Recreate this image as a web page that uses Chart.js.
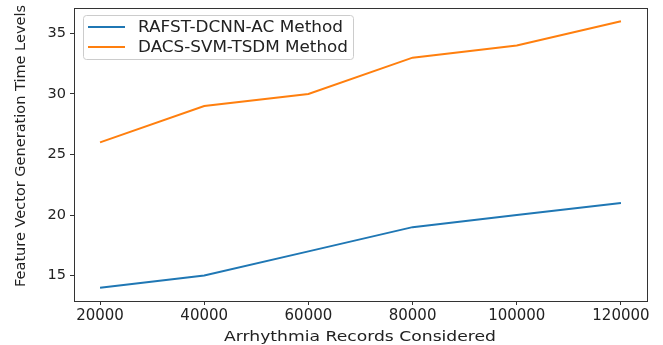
<!DOCTYPE html>
<html lang="en">
  <head>
    <meta charset="UTF-8" />
    <title>Feature Vector Generation Time</title>
    <style>
      html, body { margin: 0; padding: 0; background: #fff; }
      #wrap { width: 663px; height: 345px; }
    </style>
  </head>
  <body>
    <div id="wrap"><canvas id="myChart"></canvas></div>

    <script src="https://cdn.jsdelivr.net/npm/chart.js"></script>
    <script>
      const records = [20000, 40000, 60000, 80000, 100000, 120000];
      const rafstDcnn = [14, 15, 17, 19, 20, 21];
      const dacsSvm = [26, 29, 30, 33, 34, 36];
      const xTicks = [20000, 40000, 60000, 80000, 100000, 120000];
      const yTicks = [15, 20, 25, 30, 35];
      const xTitle = 'Arrhythmia Records Considered';
      const yTitle = 'Feature Vector Generation Time Levels';

      const axisColor = '#333';
      const textColor = '#222';

      // text drawn at a given font, stretched sideways to a target width
      function wideText(ctx, text, x, y, width) {
        const w = ctx.measureText(text).width;
        ctx.save();
        ctx.translate(x, y);
        ctx.scale(width / w, 1);
        ctx.fillText(text, 0, 0);
        ctx.restore();
      }

      // frame, axis titles and the legend box in the upper left
      const decorations = {
        id: 'decorations',
        afterDatasetsDraw(chart) {
          const { ctx, chartArea: a } = chart;
          ctx.save();
          ctx.strokeStyle = axisColor;
          ctx.lineWidth = 1;
          ctx.strokeRect(a.left + 0.5, a.top + 0.5, a.right - a.left, a.bottom - a.top);

          ctx.fillStyle = textColor;
          ctx.font = '14px "DejaVu Sans"';
          ctx.textBaseline = 'alphabetic';
          ctx.textAlign = 'left';
          wideText(ctx, xTitle, 224, 341, 272);
          ctx.save();
          ctx.translate(25, 287);
          ctx.rotate(-Math.PI / 2);
          wideText(ctx, yTitle, 0, 0, 282);
          ctx.restore();

          const x0 = a.left + 9, y0 = 15;
          ctx.fillStyle = 'rgba(255,255,255,0.8)';
          ctx.strokeStyle = '#ccc';
          ctx.beginPath();
          ctx.roundRect(x0 + 0.5, y0 + 0.5, 270, 44, 3);
          ctx.fill();
          ctx.stroke();
          ctx.font = '15px "DejaVu Sans"';
          chart.data.datasets.forEach((d, i) => {
            const y = y0 + 12 + i * 20;
            ctx.strokeStyle = d.borderColor;
            ctx.lineWidth = 2;
            ctx.beginPath();
            ctx.moveTo(x0 + 5, y);
            ctx.lineTo(x0 + 42, y);
            ctx.stroke();
            ctx.fillStyle = textColor;
            ctx.textBaseline = 'middle';
            wideText(ctx, d.label, x0 + 55, y + 1, i === 0 ? 205 : 210);
          });
          ctx.restore();
        }
      };

      new Chart(document.getElementById('myChart'), {
        type: 'line',
        data: {
          datasets: [
            {
              label: 'RAFST-DCNN-AC Method',
              data: records.map((r, i) => ({ x: r, y: rafstDcnn[i] })),
              borderColor: '#1f77b4',
              borderWidth: 2,
              pointRadius: 0,
              tension: 0
            },
            {
              label: 'DACS-SVM-TSDM Method',
              data: records.map((r, i) => ({ x: r, y: dacsSvm[i] })),
              borderColor: '#ff7f0e',
              borderWidth: 2,
              pointRadius: 0,
              tension: 0
            }
          ]
        },
        options: {
          responsive: true,
          maintainAspectRatio: false,
          animation: false,
          layout: { padding: { top: 8, right: 16, left: 0, bottom: 0 } },
          plugins: { legend: { display: false }, tooltip: { enabled: false } },
          scales: {
            x: {
              type: 'linear',
              min: 15000,
              max: 125000,
              afterBuildTicks: s => { s.ticks = xTicks.map(v => ({ value: v })); },
              afterFit: s => { s.height = 44; s.paddingLeft = 0; s.paddingRight = 0; },
              ticks: { color: textColor, font: { family: 'DejaVu Sans', size: 15 }, padding: 2, maxRotation: 0, callback: v => String(v) },
              grid: { display: true, drawOnChartArea: false, drawTicks: true, tickLength: 4, color: axisColor },
              border: { color: axisColor }
            },
            y: {
              min: 12.9,
              max: 37.1,
              afterBuildTicks: s => { s.ticks = yTicks.map(v => ({ value: v })); },
              afterFit: s => { s.width = 74; s.paddingTop = 0; s.paddingBottom = 0; },
              ticks: { color: textColor, font: { family: 'DejaVu Sans', size: 14.5 }, padding: 4 },
              grid: { display: true, drawOnChartArea: false, drawTicks: true, tickLength: 4, color: axisColor },
              border: { color: axisColor }
            }
          }
        },
        plugins: [decorations]
      });
    </script>
  </body>
</html>
